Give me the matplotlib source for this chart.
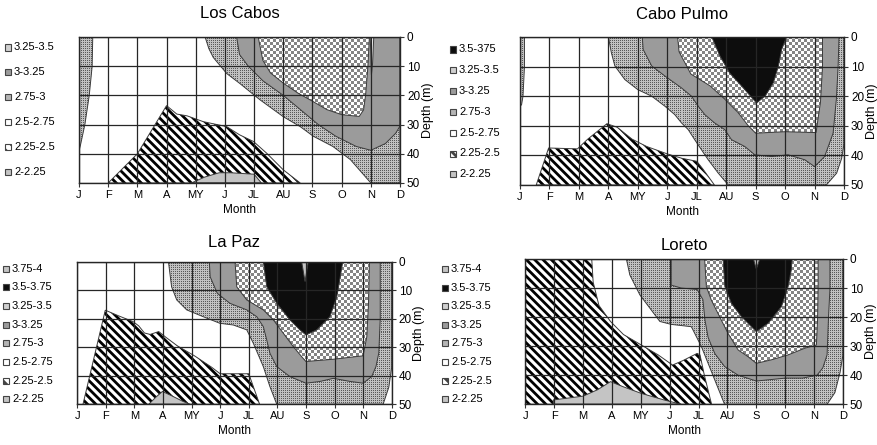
import numpy as np
import matplotlib
matplotlib.use("Agg")
from matplotlib import pyplot as plt
from matplotlib.patches import Polygon, Rectangle

plt.rcParams['font.family'] = ['Liberation Sans', 'DejaVu Sans']
plt.rcParams['hatch.linewidth'] = 2.0
plt.rcParams['hatch.color'] = 'black'

##############################################################################
# DONNEES (mois 0=J ... 11=D, profondeur en m)
##############################################################################

MONTHS = ['J', 'F', 'M', 'A', 'MY', 'J', 'JL', 'AU', 'S', 'O', 'N', 'D']
DEPTHS = [0, 10, 20, 30, 40, 50]

# Los Cabos
LC_DOT_LEFT = [(0, 0), (0.47, 0), (0.45, 10), (0.35, 20), (0.2, 30), (0.05, 37), (0, 39)]
LC_DOT = [(4.32, 0), (4.45, 4), (4.6, 7), (5.06, 12.5), (5.52, 16), (6.2, 21.5), (7.0, 27.3),
          (7.58, 30.7), (8.03, 34), (8.7, 37.5), (9.3, 42), (10.0, 50), (11, 50), (11, 0)]
LC_GRAY = [(5.4, 0), (5.5, 6), (5.8, 10), (6.3, 15), (7.0, 20), (7.6, 25), (8.2, 30), (8.8, 34),
           (9.5, 37.5), (10.0, 38.8), (10.5, 36.5), (10.85, 33), (11, 30.5), (11, 0)]
LC_CHECK = [(6.14, 0), (6.3, 8), (6.56, 12.3), (7.0, 15.8), (7.5, 19.2), (8.0, 22), (8.5, 24.9),
            (9.0, 26.6), (9.6, 27.2), (9.75, 25), (9.82, 20), (9.9, 10), (9.95, 0)]
LC_WEDGE = [(9.98, 0), (10.1, 0), (10.06, 9), (10.02, 13)]
LC_STRIPE = [(1.0, 50), (2.0, 40), (3.0, 23.5), (3.35, 26.4), (3.7, 27), (4.26, 29), (5.06, 30.7),
             (5.5, 33.5), (5.98, 35.8), (6.43, 39.8), (7.0, 45.5), (7.58, 50)]
LC_LIGHT = [(3.85, 50), (4.3, 48), (4.8, 46.5), (5.2, 46.5), (6.0, 47), (6.25, 50)]

# Cabo Pulmo
CP_DOT_LEFT = [(0, 0), (0.15, 0), (0.15, 10), (0.1, 20), (0.05, 23), (0, 23)]
CP_DOT = [(3.0, 0), (3.1, 5.3), (3.22, 9.8), (3.56, 14.4), (4.0, 17.8), (4.47, 20), (4.92, 23.4),
          (5.25, 26.2), (5.48, 29), (5.71, 31.3), (5.93, 34.7), (6.16, 38.1), (6.39, 41.5),
          (6.73, 46), (7.07, 50), (10.4, 50), (10.75, 46), (10.92, 41), (11, 36), (11, 0)]
CP_GRAY = [(4.15, 0), (4.18, 4.2), (4.47, 9.8), (4.92, 13.2), (5.48, 17.2), (5.82, 20), (6.05, 23.4),
           (6.27, 26.2), (6.6, 29), (6.95, 31.3), (7.18, 34.7), (7.63, 37), (7.97, 39.8),
           (8.54, 40.4), (9.1, 39.8), (9.67, 41.5), (10.0, 43.8), (10.34, 40.4), (10.63, 32.5),
           (10.74, 21), (10.8, 9.8), (10.83, 0)]
CP_CHECK = [(5.35, 0), (5.4, 5), (5.8, 12.5), (6.45, 16.5), (6.95, 21), (7.4, 25.5), (7.75, 30),
            (8.0, 32.5), (9.0, 32), (10.05, 32.3), (10.2, 22), (10.27, 10), (10.27, 0)]
CP_BLACK = [(6.51, 0), (6.79, 6.5), (7.12, 12.2), (7.58, 17.2), (8.03, 22.3), (8.32, 20),
            (8.6, 15.5), (8.77, 9.9), (8.88, 4.3), (9.05, 0)]
CP_STRIPE = [(0.55, 50), (0.97, 37.5), (1.95, 37.8), (2.3, 34.5), (2.95, 29.3), (3.3, 30.5),
             (3.8, 34.5), (4.3, 37), (5.0, 39.5), (5.5, 41), (6.0, 42), (6.2, 44.5), (6.6, 50)]

# La Paz
LP_DOT = [(3.19, 0), (3.3, 8.8), (3.48, 13.4), (3.83, 16.9), (4.41, 19.3), (4.99, 21.6),
          (5.46, 22.2), (5.93, 23.9), (6.16, 28.6), (6.51, 36.8), (6.74, 43.8), (6.98, 50),
          (10.7, 50), (10.9, 44), (11, 37), (11, 0)]
LP_GRAY = [(4.62, 0), (4.65, 5.3), (4.9, 11.1), (5.34, 14.6), (5.93, 16.9), (6.28, 19.3),
           (6.51, 22.8), (6.63, 27.5), (6.74, 32.1), (6.98, 36.8), (7.44, 40.3), (8.0, 42.6),
           (8.49, 42), (8.96, 40.9), (9.55, 42), (10.0, 42.6), (10.3, 40.3), (10.45, 36.8),
           (10.55, 32), (10.6, 20), (10.6, 0)]
LP_CHECK = [(5.52, 0), (5.58, 8.8), (5.93, 13.4), (6.51, 16.9), (6.86, 20.4), (7.21, 25.1),
            (7.56, 29.8), (7.85, 33.3), (8.0, 35), (8.96, 34.2), (10.0, 33), (10.13, 26.3),
            (10.19, 14.6), (10.22, 0)]
LP_BLACK = [(6.51, 0), (6.63, 8.8), (6.98, 14.6), (7.44, 20.4), (7.79, 23.9), (8.0, 25.7),
            (8.38, 23.9), (8.84, 19.3), (9.08, 12.3), (9.2, 5.3), (9.29, 0)]
LP_TOP = [(7.85, 0), (7.97, 7), (8.08, 0)]
LP_STRIPE = [(0.2, 50), (0.98, 17), (1.45, 19), (1.95, 21), (2.15, 22.5), (2.35, 25), (2.55, 25.5),
             (2.85, 24.5), (3.1, 26.5), (3.5, 29.5), (4.1, 33), (4.7, 37), (5.0, 39.3),
             (6.0, 39.3), (6.38, 50)]
LP_LIGHT = [(2.5, 50), (2.75, 47.5), (2.98, 45.5), (3.3, 47), (3.7, 49), (3.95, 50)]

# Loreto
LO_DOT = [(3.5, 0), (3.62, 5.5), (3.97, 12.4), (4.32, 17), (4.66, 21.5), (5.05, 22.5),
          (5.75, 23.3), (6.1, 30.2), (6.33, 35.9), (6.56, 41.6), (6.9, 50), (10.45, 50),
          (10.72, 46), (10.9, 39), (11, 33), (11, 0)]
LO_GRAY = [(5.05, 0), (5.05, 9), (5.4, 10), (5.95, 10.5), (6.15, 14), (6.22, 21), (6.33, 27),
           (6.56, 32.5), (6.9, 37), (7.37, 40), (8.0, 42), (8.5, 41.5), (9.0, 41), (9.6, 41),
           (10.1, 40), (10.3, 37.5), (10.45, 33), (10.5, 20), (10.55, 10), (10.55, 0)]
LO_CHECK = [(6.21, 0), (6.27, 9.5), (6.44, 14.1), (6.67, 18.7), (7.02, 25.6), (7.37, 31.3),
            (7.71, 33.6), (8.0, 35.9), (8.52, 34.7), (9.1, 33), (9.68, 30.7), (10.08, 29.6),
            (10.12, 21), (10.14, 9.5), (10.14, 0)]
LO_BLACK = [(6.85, 0), (6.91, 9.5), (7.14, 15.3), (7.48, 19.8), (7.83, 23.3), (8.0, 25),
            (8.41, 22.1), (8.87, 16.4), (9.1, 9.5), (9.21, 3.8), (9.24, 0)]
LO_TOP = [(7.9, 0), (8.0, 3.5), (8.12, 0)]
LO_STRIPE = [(0, 0), (2.3, 0), (2.35, 8), (2.55, 16), (2.95, 21.5), (3.4, 26), (4.0, 29.5),
             (4.6, 33), (5.1, 36.5), (5.45, 35), (5.95, 32.5), (6.05, 33), (6.2, 40), (6.45, 50),
             (0, 50)]
LO_LIGHT = [(0.97, 50), (0.97, 48.5), (2.0, 47.2), (2.5, 45), (2.95, 42.2), (3.4, 44), (4.0, 46.2),
            (4.8, 48.5), (5.4, 50)]

LEGEND_LC = ['3.25-3.5', '3-3.25', '2.75-3', '2.5-2.75', '2.25-2.5', '2-2.25']
LEGEND_CP = ['3.5-375', '3.25-3.5', '3-3.25', '2.75-3', '2.5-2.75', '2.25-2.5', '2-2.25']
LEGEND_LP = ['3.75-4', '3.5-3.75', '3.25-3.5', '3-3.25', '2.75-3', '2.5-2.75', '2.25-2.5', '2-2.25']
LEGEND_LO = ['3.75-4', '3.5-3.75', '3.25-3.5', '3-3.25', '2.75-3', '2.5-2.75', '2.25-2.5', '2-2.25']

##############################################################################
# STYLES
##############################################################################

GRAY = '#9b9b9b'
LIGHT = '#c4c4c4'
EDGE = '#3a3a3a'

LEGEND_STYLE = {
    '3.75-4': 'light', '3.5-3.75': 'black', '3.5-375': 'black', '3.25-3.5': 'checker',
    '3-3.25': 'gray', '2.75-3': 'dots', '2.5-2.75': 'white', '2.25-2.5': 'stripe',
    '2-2.25': 'light',
}

# (titre, regions dans l'ordre de dessin, legende, position axes, decalage titre,
#  legende: x carre, x texte, y premier, pas) -- en pixels
PANELS = [
    ('Los Cabos',
     [(LC_DOT_LEFT, 'dots'), (LC_DOT, 'dots'), (LC_GRAY, 'gray'), (LC_CHECK, 'checker'),
      (LC_WEDGE, 'white'), (LC_STRIPE, 'stripe'), (LC_LIGHT, 'light')],
     LEGEND_LC, [0.0900, 0.5888, 0.3656, 0.3281], 17, (5, 14, 47.5, 24.8)),
    ('Cabo Pulmo',
     [(CP_DOT_LEFT, 'dots'), (CP_DOT, 'dots'), (CP_GRAY, 'gray'), (CP_CHECK, 'checker'),
      (CP_BLACK, 'black'), (CP_STRIPE, 'stripe')],
     LEGEND_CP, [0.5923, 0.5843, 0.3690, 0.3326], 16.5, (450, 459, 49.5, 20.8)),
    ('La Paz',
     [(LP_DOT, 'dots'), (LP_GRAY, 'gray'), (LP_CHECK, 'checker'), (LP_BLACK, 'black'),
      (LP_TOP, 'light'), (LP_STRIPE, 'stripe'), (LP_LIGHT, 'light')],
     LEGEND_LP, [0.0880, 0.0915, 0.3581, 0.3204], 13.5, (3, 12, 268.5, 18.7)),
    ('Loreto',
     [(LO_DOT, 'dots'), (LO_GRAY, 'gray'), (LO_CHECK, 'checker'), (LO_BLACK, 'black'),
      (LO_TOP, 'light'), (LO_STRIPE, 'stripe'), (LO_LIGHT, 'light')],
     LEGEND_LO, [0.5983, 0.0915, 0.3618, 0.3265], 10, (442, 451, 269, 18.6)),
]

##############################################################################
# FONCTIONS
##############################################################################

def texture(kind, w, h):
    """Motif pixel (pointille ou damier) pour une zone de l'axe"""
    yy, xx = np.mgrid[0:h, 0:w]
    if kind == 'dots':
        on = (xx % 2 == 0) & (yy % 2 == 0)
        img = np.where(on, 0.35, 0.76)
    else:
        on = ((xx // 3) + (yy // 3)) % 2 == 0
        img = np.where(on, 0.52, 1.0)
    return np.dstack([img] * 3)


def fill_region(ax, pts, style, textures):
    if style in ('dots', 'checker'):
        clip = Polygon(pts, closed=True, transform=ax.transData)
        im = ax.imshow(textures[style], extent=(0, 11, 50, 0), aspect='auto',
                       interpolation='nearest', zorder=1)
        im.set_clip_path(clip)
    elif style == 'stripe':
        ax.add_patch(Polygon(pts, closed=True, facecolor='white', edgecolor='black',
                             hatch='\\\\\\\\', lw=0, zorder=1))
    else:
        color = {'gray': GRAY, 'light': LIGHT, 'black': '#0d0d0d', 'white': 'white'}[style]
        ax.add_patch(Polygon(pts, closed=True, facecolor=color, lw=0, zorder=1))
    ax.add_patch(Polygon(pts, closed=True, fill=False, edgecolor=EDGE, lw=0.7, zorder=2))


def legend_patch(fig, x, y, style):
    W, H = fig.get_size_inches() * fig.dpi
    face = {'light': LIGHT, 'black': '#0d0d0d', 'checker': '#d0d0d0', 'gray': GRAY,
            'dots': '#b5b5b5', 'white': 'white', 'stripe': 'white'}[style]
    hatch = '\\\\\\' if style == 'stripe' else None
    fig.patches.append(Rectangle((x / W, 1 - (y + 3) / H), 6 / W, 6 / H,
                                 transform=fig.transFigure, facecolor=face,
                                 edgecolor='#444444', lw=0.8, hatch=hatch))

##############################################################################
# TRACE
##############################################################################

fig = plt.figure(figsize=(8.78, 4.45), dpi=100)
W, H = fig.get_size_inches() * fig.dpi

for title, regions, labels, pos, tpad, leg in PANELS:
    ax = fig.add_axes(pos)
    w = int(round(pos[2] * W)) + 1
    h = int(round(pos[3] * H)) + 1
    textures = {'dots': texture('dots', w, h), 'checker': texture('checker', w, h)}

    for pts, style in regions:
        fill_region(ax, pts, style, textures)

    ax.set_xlim(0, 11)
    ax.set_ylim(50, 0)
    ax.set_xticks(range(len(MONTHS)))
    ax.set_xticklabels(MONTHS)
    ax.set_yticks(DEPTHS)
    ax.yaxis.tick_right()
    ax.yaxis.set_label_position('right')
    ax.grid(True, color='#262626', lw=0.9)
    ax.set_axisbelow(False)
    ax.tick_params(axis='x', labelsize=8, length=3, width=0.8, color='#333333', pad=2)
    ax.tick_params(axis='y', labelsize=8.5, length=3, width=0.8, color='#333333', pad=2)
    for sp in ax.spines.values():
        sp.set_linewidth(1.0)
        sp.set_color('#262626')
    ax.set_xlabel('Month', fontsize=8.5, labelpad=3)
    ax.set_ylabel('Depth (m)', fontsize=9, labelpad=1)
    ax.annotate(title, xy=(0.5, 1), xycoords='axes fraction', xytext=(0, tpad),
                textcoords='offset points', ha='center', va='center', fontsize=12)

    px, tx, y0, dy = leg
    for i, lab in enumerate(labels):
        y = y0 + i * dy
        legend_patch(fig, px, y, LEGEND_STYLE[lab])
        fig.text(tx / W, 1 - y / H, lab, fontsize=8, va='center', ha='left')

fig.savefig('out.png', dpi=100)
plt.close(fig)
